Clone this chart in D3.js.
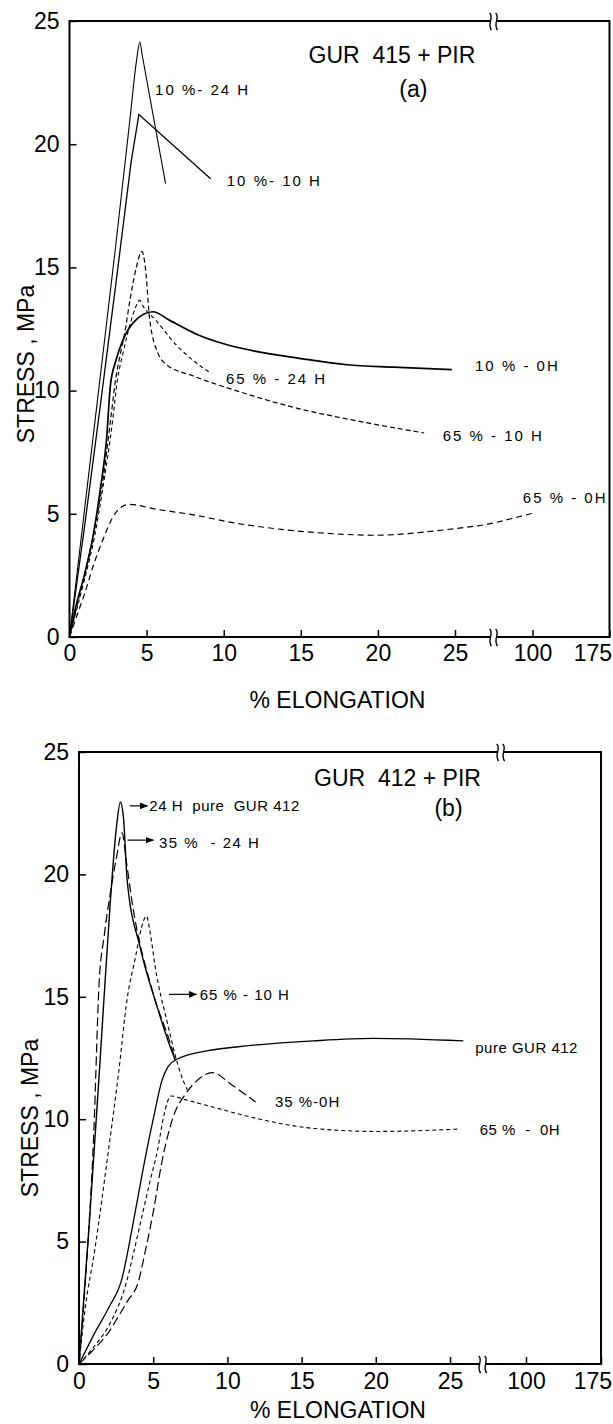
<!DOCTYPE html>
<html>
<head>
<meta charset="utf-8">
<script src="https://cdn.jsdelivr.net/npm/d3@7"></script>
<style>
  body { margin: 0; background: #fff; }
  svg { display: block; font-family: "Liberation Sans", Arial, sans-serif; }
  .axis text { font-size: 23px; fill: #000; }
  .axis line { stroke: #000; stroke-width: 1.5; }
  .frame { fill: none; stroke: #000; stroke-width: 2; }
  .curve { fill: none; stroke: #000; }
  .ttl { font-size: 23px; white-space: pre; }
  .lbl { font-size: 15px; white-space: pre; }
</style>
</head>
<body>
<div class="chart"></div>
<script>
// tick labels (shared by both panels)
const xTicks = [0, 5, 10, 15, 20, 25, 100, 175];
const yTicks = [0, 5, 10, 15, 20, 25];

// (a) GUR 415 + PIR   -- [% elongation, stress MPa]
const a10_24H = [[0,0],[1,5.3],[2,10.6],[3,15.9],[3.9,20.9],[4.35,23.4],[4.56,24.15],[4.72,23.6],[6.23,18.4]];
const a10_10H = [[0,0],[1,4.6],[2,9.4],[3,14.3],[4,19.3],[4.5,21.2],[9.15,18.6]];
const a10_0H  = [[0,0],[0.4,1.2],[1,2.6],[1.5,4.0],[2,6.0],[2.4,8.0],[2.65,10.2],[3,11.2],[3.5,12.1],[4.2,12.8],[5.4,13.2],[6.5,12.85],[8.2,12.3],[10,11.9],[12,11.6],[15,11.3],[18,11.05],[21,10.95],[24.8,10.85]];
const a65_24H = [[0,0],[0.5,1.2],[1,2.4],[1.6,4.0],[2.2,6.2],[2.8,8.8],[3.1,10.4],[3.46,11.5],[4,12.85],[4.3,13.4],[4.55,13.66],[4.8,13.4],[5.6,12.85],[7,11.8],[8.6,10.95],[9.2,10.7]];
const a65_10H = [[0,0],[0.5,1.3],[1,2.6],[1.6,4.3],[2.2,6.5],[2.7,9.0],[3,10.5],[3.3,11.5],[3.6,12.4],[3.9,13.6],[4.3,14.9],[4.7,15.65],[4.9,15.1],[5.2,12.9],[5.75,11.5],[6.2,11.1],[8,10.6],[10.8,10.0],[14.85,9.27],[18.4,8.8],[23,8.28]];
const a65_0H  = [[0,0],[0.5,0.9],[1,1.8],[1.6,3.0],[2.2,4.0],[2.8,4.85],[3.3,5.25],[3.9,5.38],[5.5,5.2],[8.2,4.94],[10.5,4.65],[13.3,4.4],[17.1,4.19],[19.9,4.13],[23,4.26],[25,4.4],[27.3,4.6],[60,4.8],[100,5.02]];

// (b) GUR 412 + PIR
const bPure24H = [[0,0],[0.7,5.8],[1.4,12.2],[2.1,18.8],[2.5,21.8],[2.79,22.95],[3,22.3],[3.24,19.8],[4.13,17.0],[5.26,14.6],[6.15,12.95],[6.5,12.4]];
const b35_24H  = [[0,0],[0.5,4.0],[1,9.5],[1.35,15.5],[1.7,17.5],[2.1,19.2],[2.5,20.6],[2.9,21.7],[3.2,20.5],[3.57,18.9],[4.92,15.3],[6.26,12.9],[6.5,12.4]];
const b65_10H  = [[0,0],[0.4,2.2],[1.06,4.65],[1.98,8.7],[2.67,11.9],[3.24,14.9],[3.8,16.6],[4.2,17.8],[4.54,18.3],[4.8,17.6],[5.14,16.2],[5.93,14.0],[6.94,11.7],[7.3,11.2]];
const bPure    = [[0,0],[0.5,0.6],[1,1.2],[2,2.3],[2.9,3.5],[3.6,5.6],[4.3,7.9],[5,10.0],[5.6,11.6],[6,12.15],[6.6,12.45],[8.7,12.8],[10.6,12.95],[15.8,13.2],[19.8,13.3],[25.9,13.2]];
const b35_0H   = [[0,0],[1,0.6],[2,1.3],[2.64,1.93],[3.3,2.6],[3.97,3.3],[4.5,4.7],[5.03,6.3],[5.6,8.3],[6.08,9.55],[6.35,10.1],[7.14,11.0],[8,11.6],[8.98,11.9],[10.3,11.4],[11.9,10.7]];
const b65_0H   = [[0,0],[1,0.7],[2.1,1.67],[3.18,3.3],[3.7,4.6],[4.23,6.0],[4.8,7.5],[5.29,8.73],[5.7,10.1],[6.2,10.95],[7.14,10.8],[9,10.5],[11.9,10.04],[15.85,9.62],[20.1,9.5],[25.7,9.6]];

const W = 613, H = 1424;

const svg = d3.select(".chart").append("svg")
  .attr("width", W)
  .attr("height", H);

svg.append("defs").append("marker")
  .attr("id", "arr")
  .attr("viewBox", "0 0 10 10")
  .attr("refX", 9).attr("refY", 5)
  .attr("markerWidth", 7).attr("markerHeight", 7)
  .attr("orient", "auto")
  .append("path").attr("d", "M0,1L10,5L0,9Z").attr("fill", "#000");

function panel(P) {
  const g = svg.append("g").attr("transform", `translate(${P.left},${P.top})`);
  const k = P.x25 / 25;
  const x = d3.scaleLinear()
    .domain([0, P.brk, 100, 175])
    .range([0, P.brk * k, P.x100, P.width]);
  // plain linear extension, only for placing the text labels
  const xl = d3.scaleLinear().domain([0, 25]).range([0, P.x25]);
  const y = d3.scaleLinear().domain([0, 25]).range([P.height, 0]);

  const xAx = g.append("g").attr("class", "axis")
    .attr("transform", `translate(0,${P.height})`)
    .call(d3.axisBottom(x).tickValues(xTicks).tickFormat(d3.format("d"))
      .tickSizeInner(-7).tickSizeOuter(0).tickPadding(P.xPad))
    .call(s => s.select(".domain").remove());
  // last label pulled inside the page edge
  xAx.selectAll(".tick").filter(d => d === 175).select("text")
    .attr("text-anchor", "end")
    .attr("x", W - 1.5 - (P.left + P.width));

  g.append("g").attr("class", "axis")
    .call(d3.axisLeft(y).tickValues(yTicks).tickFormat(d3.format("d"))
      .tickSizeInner(-7).tickSizeOuter(0).tickPadding(10))
    .call(s => s.select(".domain").remove());

  g.append("path").attr("class", "frame")
    .attr("d", `M0,0V${P.height}H${P.width}V0Z`);

  // axis breaks
  const brks = [[x(P.brk), P.height], [x(P.brk) + P.topShift, 0]];
  brks.forEach(([bx, by]) => {
    g.append("rect").attr("x", bx - 3).attr("y", by - 3).attr("width", 6).attr("height", 6).attr("fill", "#fff");
    [-3, 3].forEach(o => {
      g.append("path").attr("class", "curve").attr("stroke-width", 1.4)
        .attr("d", `M${bx + o - 1},${by - 8}C${bx + o + 4},${by - 4} ${bx + o - 4},${by + 3} ${bx + o + 1},${by + 9}`);
    });
  });

  P.series.forEach(s => {
    const line = d3.line().x(d => x(d[0])).y(d => y(d[1])).curve(s.curve || d3.curveMonotoneX);
    g.append("path").datum(s.data)
      .attr("class", "curve")
      .attr("stroke-width", s.w)
      .attr("stroke-dasharray", s.dash)
      .attr("d", line);
  });

  P.arrows.forEach(a => {
    g.append("line")
      .attr("x1", xl(a[0])).attr("x2", xl(a[1]))
      .attr("y1", y(a[2])).attr("y2", y(a[2]))
      .attr("stroke", "#000").attr("stroke-width", 1.2)
      .attr("marker-end", "url(#arr)");
  });

  g.selectAll("text.lbl-" + P.id)
    .data(P.labels)
    .join("text")
    .attr("class", d => d.cls)
    .attr("x", d => xl(d.x))
    .attr("y", d => y(d.y))
    .attr("text-anchor", d => d.anchor || "start")
    .attr("letter-spacing", d => d.ls || 0)
    .text(d => d.t);

  g.append("text").attr("class", "ttl")
    .attr("x", P.width / 2 - 2)
    .attr("y", P.height + P.xTitleDy)
    .attr("text-anchor", "middle")
    .text("% ELONGATION");

  g.append("text").attr("class", "ttl")
    .attr("transform", `translate(${P.yTitleDx},${P.yTitleCy}) rotate(-90)`)
    .attr("text-anchor", "middle")
    .text("STRESS , MPa");
}

panel({
  id: "a", left: 69.5, top: 21, width: 540, height: 616,
  x25: 385.5, brk: 27.5, x100: 463, topShift: 0, xPad: 8,
  xTitleDy: 71, yTitleDx: -35.5, yTitleCy: 343,
  series: [
    { data: a10_24H, w: 1.1 },
    { data: a10_10H, w: 1.3, curve: d3.curveLinear },
    { data: a10_0H, w: 1.7 },
    { data: a65_24H, w: 1.1, dash: "4,3" },
    { data: a65_10H, w: 1.2, dash: "5,3" },
    { data: a65_0H, w: 1.2, dash: "6,4" }
  ],
  arrows: [],
  labels: [
    { t: "GUR  415 + PIR", x: 15.5, y: 23.3, cls: "ttl" },
    { t: "(a)", x: 22.3, y: 21.9, cls: "ttl", anchor: "middle" },
    { t: "10 %- 24 H", x: 5.55, y: 22.0, cls: "lbl", ls: 2 },
    { t: "10 %- 10 H", x: 10.2, y: 18.3, cls: "lbl", ls: 2 },
    { t: "10 % - 0H", x: 26.3, y: 10.78, cls: "lbl", ls: 2 },
    { t: "65 % - 24 H", x: 10.15, y: 10.25, cls: "lbl", ls: 2 },
    { t: "65 % - 10 H", x: 24.2, y: 7.95, cls: "lbl", ls: 2 },
    { t: "65 % - 0H", x: 29.4, y: 5.42, cls: "lbl", ls: 2 }
  ]
});

panel({
  id: "b", left: 79, top: 752, width: 522, height: 612,
  x25: 371, brk: 27.2, x100: 447, topShift: 18, xPad: 9,
  xTitleDy: 54, yTitleDx: -41, yTitleCy: 366,
  series: [
    { data: bPure24H, w: 1.4 },
    { data: b35_24H, w: 1.2, dash: "9,4" },
    { data: b65_10H, w: 1.1, dash: "4,3" },
    { data: bPure, w: 1.3 },
    { data: b35_0H, w: 1.2, dash: "9,4" },
    { data: b65_0H, w: 1.1, dash: "4,3" }
  ],
  arrows: [[3.42, 4.61, 22.8], [3.28, 5.0, 21.4], [6.06, 7.92, 15.1]],
  labels: [
    { t: "GUR  412 + PIR", x: 15.84, y: 23.6, cls: "ttl" },
    { t: "(b)", x: 24.9, y: 22.4, cls: "ttl", anchor: "middle" },
    { t: "24 H  pure  GUR 412", x: 4.74, y: 22.6, cls: "lbl", ls: 0.5 },
    { t: "35 %  - 24 H", x: 5.39, y: 21.06, cls: "lbl", ls: 1.5 },
    { t: "65 % - 10 H", x: 8.13, y: 14.86, cls: "lbl", ls: 1 },
    { t: "pure GUR 412", x: 26.7, y: 12.7, cls: "lbl", ls: 0.5 },
    { t: "35 %-0H", x: 13.2, y: 10.5, cls: "lbl", ls: 1 },
    { t: "65 %  -  0H", x: 27.0, y: 9.35, cls: "lbl", ls: 0.5 }
  ]
});
</script>
</body>
</html>
